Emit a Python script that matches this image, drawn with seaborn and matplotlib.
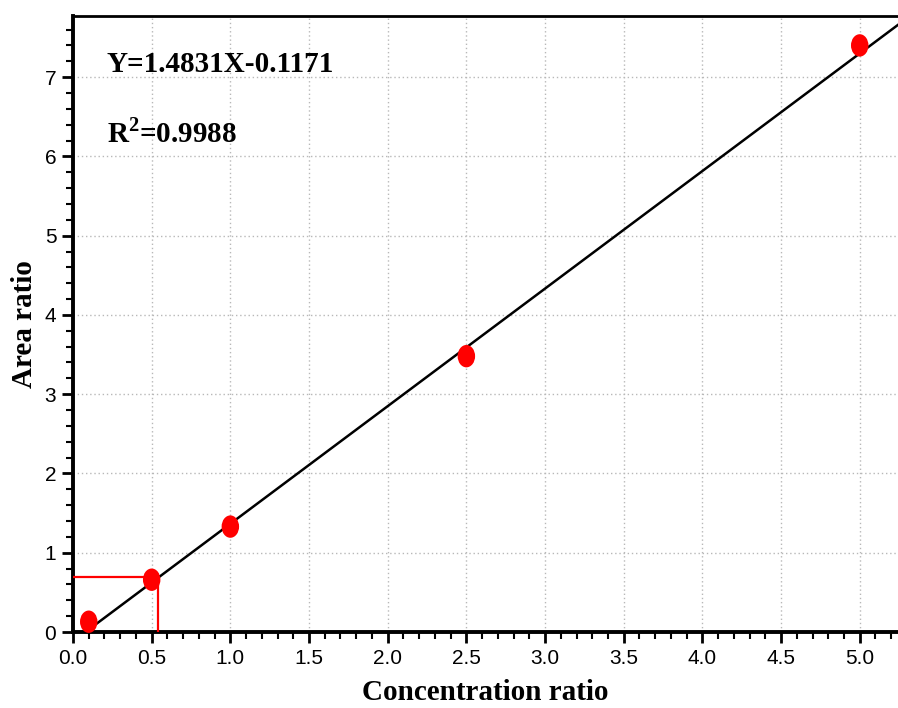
import numpy as np
import pandas as pd
import matplotlib
matplotlib.use('Agg')
import matplotlib.pyplot as plt
from matplotlib.path import Path
from matplotlib.transforms import Affine2D
from matplotlib.ticker import MultipleLocator, FormatStrFormatter
import seaborn as sns

# calibration points
conc_ratio = [0.1, 0.5, 1.0, 2.5, 5.0]
area_ratio = [0.13, 0.66, 1.33, 3.48, 7.40]
slope = 1.4831
intercept = -0.1171
# sample read-off (red guide lines)
sample_x = 0.54
sample_y = 0.70

df = pd.DataFrame({'conc': conc_ratio, 'area': area_ratio})

sns.set_style('white')
plt.rcParams['font.family'] = ['Liberation Sans Narrow', 'Liberation Sans', 'DejaVu Sans']
plt.rcParams['text.color'] = 'black'
plt.rcParams['axes.labelcolor'] = 'black'
plt.rcParams['xtick.color'] = 'black'
plt.rcParams['ytick.color'] = 'black'
plt.rcParams['mathtext.fontset'] = 'custom'
plt.rcParams['mathtext.bf'] = 'Liberation Serif:bold'
plt.rcParams['mathtext.rm'] = 'Liberation Serif:bold'

fig = plt.figure(figsize=(8.98, 7.08), dpi=100)
ax = fig.add_axes([0.0813, 0.1073, 0.9190, 0.870])

# fitted line
fx = np.array([0.08, 5.4])
ax.plot(fx, slope * fx + intercept, color='black', lw=1.8, zorder=3)

# red guide lines
ax.plot([0, sample_x, sample_x], [sample_y, sample_y, 0], color='red', lw=1.6, zorder=3)

# ellipse marker, taller than wide
ell = Path.unit_circle().transformed(Affine2D().scale(0.78, 1.0))
sns.scatterplot(data=df, x='conc', y='area', marker=ell, s=260, color='red',
                edgecolor='none', ax=ax, zorder=4, clip_on=False)

ax.set_xlim(0, 5.245)
ax.set_ylim(0, 7.77)
ax.xaxis.set_major_locator(MultipleLocator(0.5))
ax.xaxis.set_minor_locator(MultipleLocator(0.1))
ax.yaxis.set_major_locator(MultipleLocator(1))
ax.yaxis.set_minor_locator(MultipleLocator(0.2))
ax.xaxis.set_major_formatter(FormatStrFormatter('%.1f'))

ax.grid(True, which='major', color='#b8b8b8', ls=(0, (1, 2)), lw=1.0)
ax.tick_params(which='major', direction='out', length=8, width=2, labelsize=15,
               bottom=True, left=True, pad=4)
ax.tick_params(which='minor', direction='out', length=5, width=1.5,
               bottom=True, left=True)

for s in ['left', 'bottom']:
    ax.spines[s].set_linewidth(2.8)
    ax.spines[s].set_color('black')
ax.spines['top'].set_linewidth(2.0)
ax.spines['top'].set_color('black')
ax.spines['right'].set_visible(False)

ax.set_xlabel('Concentration ratio', family='Liberation Serif', fontweight='bold',
              fontsize=21, labelpad=8)
ax.set_ylabel('Area ratio', family='Liberation Serif', fontweight='bold',
              fontsize=21, labelpad=5)

ax.text(0.216, 7.16, 'Y=1.4831X-0.1171', family='Liberation Serif', fontweight='bold',
        fontsize=21, va='center')
ax.text(0.216, 6.29, r'R$^{\mathbf{2}}$=0.9988', family='Liberation Serif', fontweight='bold',
        fontsize=21, va='center')

fig.savefig('out.png', dpi=100)
